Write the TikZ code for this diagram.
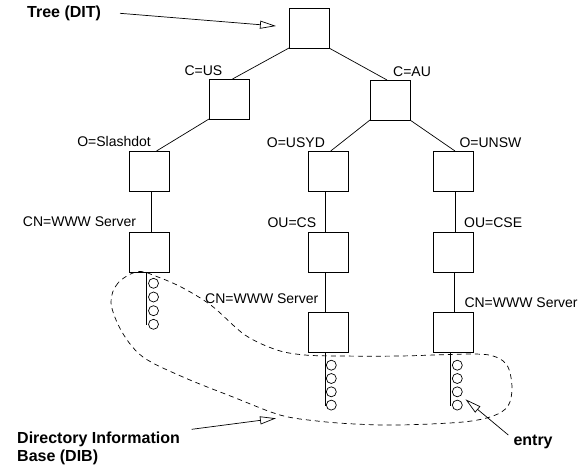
\documentclass[tikz,border=0pt]{standalone}
\usepackage{fontspec}
\setmainfont{Liberation Sans}
\usetikzlibrary{arrows.meta}
\begin{document}
\begin{tikzpicture}[x=1pt,y=-1pt,
  dnbox/.style={draw, line width=0.75pt, minimum size=40pt, inner sep=0pt, outer sep=0pt},
  lbl/.style={font=\fontsize{14}{16}\selectfont, inner sep=0pt, anchor=base west},
  blbl/.style={font=\fontsize{16}{18}\selectfont\bfseries, inner sep=0pt, anchor=base west},
  link/.style={line width=0.7pt},
  pointer/.style={line width=0.7pt, -{Triangle[open, length=16pt, width=8pt]}},
  rec/.style={circle, draw, line width=0.7pt, minimum size=10pt, inner sep=0pt},
  dib/.style={line width=0.7pt, dash pattern=on 5pt off 4pt},
]
\path[use as bounding box] (0,0) rectangle (588,464);

% directory entries (DIT)
\node[dnbox] (root)  at (309,28)  {};
\node[dnbox] (cus)   at (229,99)  {};
\node[dnbox] (cau)   at (390,100) {};
\node[dnbox] (slash) at (149,171) {};
\node[dnbox] (usyd)  at (328,171) {};
\node[dnbox] (unsw)  at (453,171) {};
\node[dnbox] (srvL)  at (149,252) {};
\node[dnbox] (cs)    at (328,252) {};
\node[dnbox] (cse)   at (453,252) {};
\node[dnbox] (srvM)  at (328,332) {};
\node[dnbox] (srvR)  at (453,332) {};

% tree edges
\draw[link] (root.south west) -- ([xshift=3.5pt]cus.north);
\draw[link] (root.south east) -- ([xshift=-3pt]cau.north);
\draw[link] (cus.south west)  -- ([xshift=7.5pt]slash.north);
\draw[link] (cau.south west)  -- ([xshift=2.7pt]usyd.north);
\draw[link] (cau.south east)  -- ([xshift=2pt]unsw.north);
\draw[link] ([xshift=2pt]slash.south)  -- ([xshift=2pt]srvL.north);
\draw[link] ([xshift=-2.7pt]usyd.south) -- ([xshift=-2.7pt]cs.north);
\draw[link] ([xshift=2pt]unsw.south)   -- ([xshift=2pt]cse.north);
\draw[link] ([xshift=-2.5pt]cs.south)  -- ([xshift=-2.5pt]srvM.north);
\draw[link] ([xshift=1pt]cse.south)    -- ([xshift=1pt]srvR.north);

% attribute stacks below the leaf entries
\coordinate (barL) at (146.7,324.5);
\coordinate (barM) at (325.7,406);
\coordinate (barR) at (450.3,406);
\draw[link] ([xshift=-2.3pt]srvL.south) -- (barL);
\draw[link] ([xshift=-2.3pt]srvM.south) -- (barM);
\draw[link] ([xshift=-2.7pt]srvR.south) -- (barR);
\foreach \i/\y in {1/283.3,2/297,3/310.7,4/324.3}
  \node[rec] (eL\i) at (153.5,\y) {};
\foreach \i/\y in {1/365.2,2/378.5,3/391.8,4/405.1}{
  \node[rec] (eM\i) at (331.3,\y) {};
  \node[rec] (eR\i) at (457.3,\y) {};
}

% labels
\node[lbl] (lcus)   at (184.3,75)    {C=US};
\node[lbl] (lcau)   at (393,76)      {C=AU};
\node[lbl,anchor=base east] (lslash) at (151,146) {O=Slashdot};
\node[lbl] (lusyd)  at (266.7,147.3) {O=USYD};
\node[lbl] (lunsw)  at (459.3,147)   {O=UNSW};
\node[lbl] (lcs)    at (267.3,227.3) {OU=CS};
\node[lbl] (lcse)   at (464,227)     {OU=CSE};
\node[lbl] (lsrvL)  at (22.7,226.7)  {CN=WWW Server};
\node[lbl] (lsrvM)  at (205,303.3)   {CN=WWW Server};
\node[lbl] (lsrvR)  at (464.3,307)   {CN=WWW Server};

% information base outline
\draw[dib] plot[smooth cycle, tension=0.55] coordinates {
  (138,271.5) (118,283) (111,303) (122,332) (143,357) (183,377) (233,397)
  (280,415) (317,421) (355,424) (400,425) (463,422) (493,416) (508,406)
  (512,388) (508,367) (496,357) (473,354) (400,356) (340,356) (305,355)
  (277,350) (245,335) (212,306) (183,288) (158,277)};

% callouts
\node[blbl] (tree)  at (27,17)     {Tree (DIT)};
\node[blbl] (dibA)  at (17,443.3)  {Directory Information};
\node[blbl] (dibB)  at (17,461.7)  {Base (DIB)};
\node[blbl] (entry) at (513.3,445) {entry};
\coordinate (treeTail)  at (120,13.3);
\coordinate (treeTip)   at (276,26);
\coordinate (dibTail)   at (191.7,429.3);
\coordinate (dibTip)    at (276,418.3);
\coordinate (entryTail) at (508.3,435);
\coordinate (entryTip)  at (465.5,399.3);
\draw[pointer] (treeTail)  -- (treeTip);
\draw[pointer] (dibTail)   -- (dibTip);
\draw[pointer] (entryTail) -- (entryTip);
\end{tikzpicture}
\end{document}
